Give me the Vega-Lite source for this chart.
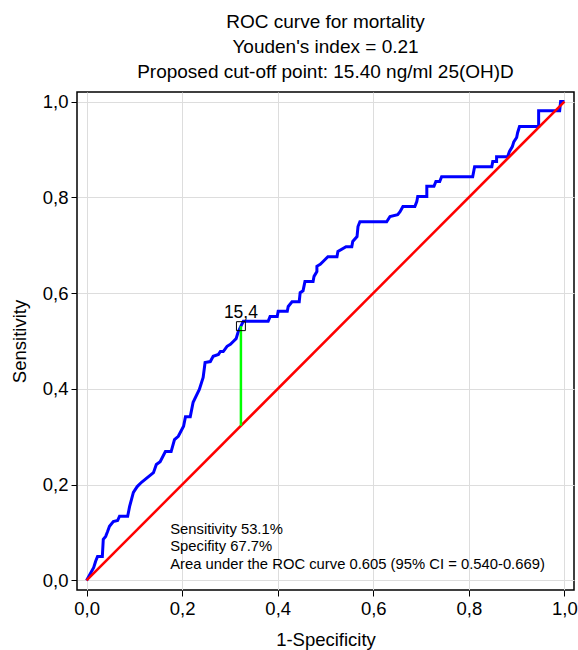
{
  "$schema": "https://vega.github.io/schema/vega-lite/v6.json",
  "autosize": "none",
  "width": 497,
  "height": 498,
  "padding": {"left": 77, "top": 92, "right": 4, "bottom": 60},
  "background": "white",
  "config": {
    "font": "Liberation Sans",
    "view": {"stroke": "black", "strokeWidth": 1.5},
    "axis": {
      "grid": true,
      "gridColor": "#dddddd",
      "gridWidth": 1,
      "domain": false,
      "tickColor": "black",
      "tickSize": 6,
      "labelFontSize": 18.5,
      "labelColor": "black",
      "labelFont": "Liberation Sans",
      "titleFont": "Liberation Sans",
      "titleFontSize": 18.5,
      "titleFontWeight": "normal",
      "titleColor": "black",
      "labelPadding": 3
    }
  },
  "title": {
    "text": ["ROC curve for mortality", "Youden's index = 0.21", "Proposed cut-off point: 15.40 ng/ml 25(OH)D"],
    "fontSize": 19,
    "fontWeight": "normal",
    "font": "Liberation Sans",
    "color": "black",
    "lineHeight": 25,
    "anchor": "middle",
    "offset": 10
  },
  "datasets": {
    "roc": [
      {"i": 0, "fpr": 0, "tpr": 0},
      {"i": 1, "fpr": 0.015, "tpr": 0.027},
      {"i": 2, "fpr": 0.019, "tpr": 0.040},
      {"i": 3, "fpr": 0.023, "tpr": 0.050},
      {"i": 4, "fpr": 0.033, "tpr": 0.050},
      {"i": 5, "fpr": 0.035, "tpr": 0.086},
      {"i": 6, "fpr": 0.040, "tpr": 0.092},
      {"i": 7, "fpr": 0.044, "tpr": 0.102},
      {"i": 8, "fpr": 0.048, "tpr": 0.113},
      {"i": 9, "fpr": 0.056, "tpr": 0.123},
      {"i": 10, "fpr": 0.065, "tpr": 0.125},
      {"i": 11, "fpr": 0.069, "tpr": 0.134},
      {"i": 12, "fpr": 0.086, "tpr": 0.134},
      {"i": 13, "fpr": 0.090, "tpr": 0.154},
      {"i": 14, "fpr": 0.098, "tpr": 0.184},
      {"i": 15, "fpr": 0.106, "tpr": 0.196},
      {"i": 16, "fpr": 0.115, "tpr": 0.205},
      {"i": 17, "fpr": 0.140, "tpr": 0.225},
      {"i": 18, "fpr": 0.146, "tpr": 0.242},
      {"i": 19, "fpr": 0.154, "tpr": 0.248},
      {"i": 20, "fpr": 0.165, "tpr": 0.269},
      {"i": 21, "fpr": 0.177, "tpr": 0.269},
      {"i": 22, "fpr": 0.184, "tpr": 0.294},
      {"i": 23, "fpr": 0.192, "tpr": 0.301},
      {"i": 24, "fpr": 0.203, "tpr": 0.322},
      {"i": 25, "fpr": 0.207, "tpr": 0.342},
      {"i": 26, "fpr": 0.217, "tpr": 0.342},
      {"i": 27, "fpr": 0.223, "tpr": 0.372},
      {"i": 28, "fpr": 0.236, "tpr": 0.399},
      {"i": 29, "fpr": 0.244, "tpr": 0.424},
      {"i": 30, "fpr": 0.248, "tpr": 0.455},
      {"i": 31, "fpr": 0.259, "tpr": 0.457},
      {"i": 32, "fpr": 0.265, "tpr": 0.468},
      {"i": 33, "fpr": 0.276, "tpr": 0.472},
      {"i": 34, "fpr": 0.280, "tpr": 0.478},
      {"i": 35, "fpr": 0.286, "tpr": 0.478},
      {"i": 36, "fpr": 0.294, "tpr": 0.489},
      {"i": 37, "fpr": 0.301, "tpr": 0.493},
      {"i": 38, "fpr": 0.307, "tpr": 0.499},
      {"i": 39, "fpr": 0.313, "tpr": 0.505},
      {"i": 40, "fpr": 0.317, "tpr": 0.518},
      {"i": 41, "fpr": 0.323, "tpr": 0.531},
      {"i": 42, "fpr": 0.328, "tpr": 0.541},
      {"i": 43, "fpr": 0.380, "tpr": 0.541},
      {"i": 44, "fpr": 0.384, "tpr": 0.551},
      {"i": 45, "fpr": 0.399, "tpr": 0.551},
      {"i": 46, "fpr": 0.401, "tpr": 0.562},
      {"i": 47, "fpr": 0.420, "tpr": 0.562},
      {"i": 48, "fpr": 0.422, "tpr": 0.572},
      {"i": 49, "fpr": 0.430, "tpr": 0.582},
      {"i": 50, "fpr": 0.445, "tpr": 0.582},
      {"i": 51, "fpr": 0.447, "tpr": 0.601},
      {"i": 52, "fpr": 0.453, "tpr": 0.605},
      {"i": 53, "fpr": 0.457, "tpr": 0.624},
      {"i": 54, "fpr": 0.474, "tpr": 0.624},
      {"i": 55, "fpr": 0.476, "tpr": 0.635},
      {"i": 56, "fpr": 0.482, "tpr": 0.645},
      {"i": 57, "fpr": 0.482, "tpr": 0.656},
      {"i": 58, "fpr": 0.489, "tpr": 0.660},
      {"i": 59, "fpr": 0.495, "tpr": 0.666},
      {"i": 60, "fpr": 0.505, "tpr": 0.676},
      {"i": 61, "fpr": 0.524, "tpr": 0.676},
      {"i": 62, "fpr": 0.526, "tpr": 0.687},
      {"i": 63, "fpr": 0.543, "tpr": 0.697},
      {"i": 64, "fpr": 0.555, "tpr": 0.697},
      {"i": 65, "fpr": 0.557, "tpr": 0.708},
      {"i": 66, "fpr": 0.566, "tpr": 0.718},
      {"i": 67, "fpr": 0.568, "tpr": 0.739},
      {"i": 68, "fpr": 0.572, "tpr": 0.749},
      {"i": 69, "fpr": 0.628, "tpr": 0.749},
      {"i": 70, "fpr": 0.635, "tpr": 0.760},
      {"i": 71, "fpr": 0.651, "tpr": 0.764},
      {"i": 72, "fpr": 0.656, "tpr": 0.770},
      {"i": 73, "fpr": 0.662, "tpr": 0.781},
      {"i": 74, "fpr": 0.687, "tpr": 0.781},
      {"i": 75, "fpr": 0.691, "tpr": 0.791},
      {"i": 76, "fpr": 0.693, "tpr": 0.802},
      {"i": 77, "fpr": 0.712, "tpr": 0.802},
      {"i": 78, "fpr": 0.712, "tpr": 0.823},
      {"i": 79, "fpr": 0.727, "tpr": 0.823},
      {"i": 80, "fpr": 0.731, "tpr": 0.833},
      {"i": 81, "fpr": 0.739, "tpr": 0.833},
      {"i": 82, "fpr": 0.743, "tpr": 0.843},
      {"i": 83, "fpr": 0.808, "tpr": 0.843},
      {"i": 84, "fpr": 0.812, "tpr": 0.864},
      {"i": 85, "fpr": 0.848, "tpr": 0.864},
      {"i": 86, "fpr": 0.850, "tpr": 0.875},
      {"i": 87, "fpr": 0.858, "tpr": 0.875},
      {"i": 88, "fpr": 0.858, "tpr": 0.885},
      {"i": 89, "fpr": 0.881, "tpr": 0.885},
      {"i": 90, "fpr": 0.885, "tpr": 0.896},
      {"i": 91, "fpr": 0.891, "tpr": 0.906},
      {"i": 92, "fpr": 0.894, "tpr": 0.916},
      {"i": 93, "fpr": 0.900, "tpr": 0.925},
      {"i": 94, "fpr": 0.902, "tpr": 0.935},
      {"i": 95, "fpr": 0.906, "tpr": 0.948},
      {"i": 96, "fpr": 0.946, "tpr": 0.948},
      {"i": 97, "fpr": 0.946, "tpr": 0.981},
      {"i": 98, "fpr": 0.990, "tpr": 0.981},
      {"i": 99, "fpr": 0.992, "tpr": 1.0},
      {"i": 100, "fpr": 1.0, "tpr": 1.0}
    ],
    "diag": [{"fpr": 0, "tpr": 0}, {"fpr": 1, "tpr": 1}],
    "cut": [{"fpr": 0.323, "tpr": 0.531, "base": 0.323, "label": "15,4"}],
    "notes": [
      {"fpr": 0.175, "tpr": 0.106, "t": "Sensitivity 53.1%"},
      {"fpr": 0.175, "tpr": 0.069, "t": "Specifity 67.7%"},
      {"fpr": 0.175, "tpr": 0.033, "t": "Area under the ROC curve 0.605 (95% CI = 0.540-0.669)"}
    ]
  },
  "encoding": {
    "x": {
      "field": "fpr", "type": "quantitative",
      "scale": {"domain": [-0.02, 1.02], "nice": false, "zero": false},
      "axis": {"values": [0, 0.2, 0.4, 0.6, 0.8, 1.0], "labelExpr": "replace(format(datum.value, '.1f'), '.', ',')", "title": "1-Specificity", "titlePadding": 13}
    },
    "y": {
      "field": "tpr", "type": "quantitative",
      "scale": {"domain": [-0.02, 1.02], "nice": false, "zero": false},
      "axis": {"values": [0, 0.2, 0.4, 0.6, 0.8, 1.0], "labelExpr": "replace(format(datum.value, '.1f'), '.', ',')", "title": "Sensitivity", "titlePadding": 13}
    }
  },
  "layer": [
    {
      "data": {"name": "roc"},
      "mark": {"type": "line", "color": "#0000ff", "strokeWidth": 3, "interpolate": "linear"},
      "encoding": {"order": {"field": "i", "type": "quantitative"}}
    },
    {
      "data": {"name": "diag"},
      "mark": {"type": "line", "color": "#ff0000", "strokeWidth": 2.5},
      "encoding": {}
    },
    {
      "data": {"name": "cut"},
      "mark": {"type": "rule", "color": "#00ff00", "strokeWidth": 2.5},
      "encoding": {"y2": {"field": "base"}}
    },
    {
      "data": {"name": "cut"},
      "mark": {"type": "point", "shape": "square", "filled": false, "stroke": "black", "strokeWidth": 1, "size": 80, "opacity": 1}
    },
    {
      "data": {"name": "cut"},
      "mark": {"type": "text", "fontSize": 17.5, "dy": -13, "color": "black", "font": "Liberation Sans"},
      "encoding": {"text": {"field": "label"}}
    },
    {
      "data": {"name": "notes"},
      "mark": {"type": "text", "fontSize": 14.8, "align": "left", "baseline": "middle", "color": "black", "font": "Liberation Sans"},
      "encoding": {"text": {"field": "t"}}
    }
  ]
}
